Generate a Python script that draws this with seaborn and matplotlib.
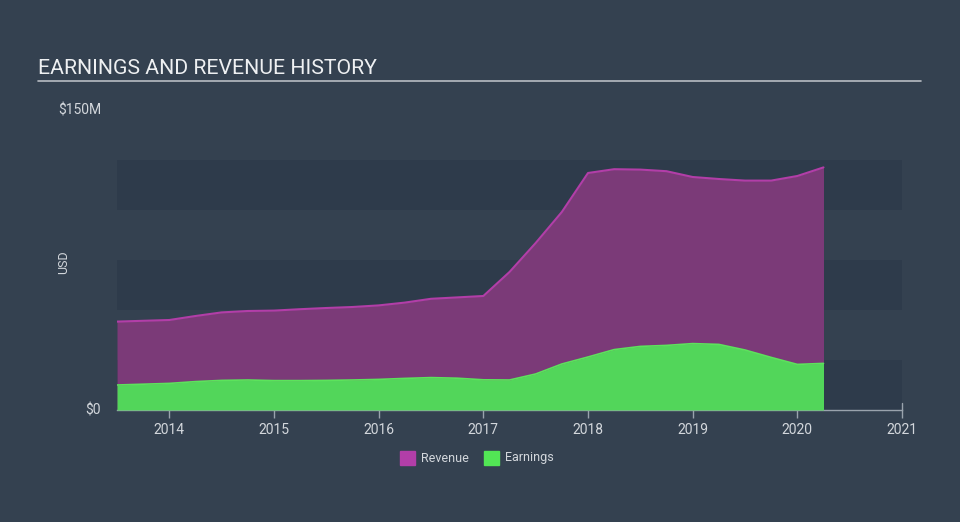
import numpy as np
import pandas as pd
import matplotlib.pyplot as plt
import seaborn as sns

# quarterly values, USD millions
dates = [2013.5, 2013.75, 2014.0, 2014.25, 2014.5, 2014.75, 2015.0, 2015.25,
         2015.5, 2015.75, 2016.0, 2016.25, 2016.5, 2016.75, 2017.0, 2017.25,
         2017.5, 2017.75, 2018.0, 2018.25, 2018.5, 2018.75, 2019.0, 2019.25,
         2019.5, 2019.75, 2020.0, 2020.25]
revenue = [44.2, 44.6, 45.0, 47.0, 48.8, 49.5, 49.7, 50.4, 51.0, 51.5, 52.3, 53.7,
           55.6, 56.3, 57.0, 69.0, 83.5, 99.0, 118.5, 120.4, 120.2, 119.4, 116.5,
           115.5, 114.7, 114.7, 117.0, 121.3]
earnings = [12.5, 12.9, 13.3, 14.2, 14.8, 15.0, 14.7, 14.7, 14.8, 15.0, 15.3, 15.8,
            16.2, 15.9, 15.1, 15.0, 18.0, 23.0, 26.5, 30.2, 31.8, 32.3, 33.2, 32.8,
            30.0, 26.3, 22.8, 23.3]
years = [2014, 2015, 2016, 2017, 2018, 2019, 2020, 2021]

df = pd.DataFrame({'date': dates, 'Revenue': revenue, 'Earnings': earnings})

bg = '#344150'
band = '#2e3b4b'
txt = '#d3d7dc'

sns.set_style('dark')
plt.rcParams['font.family'] = ['Roboto', 'DejaVu Sans']

fig = plt.figure(figsize=(9.6, 5.22), dpi=100, facecolor=bg)
ax = fig.add_axes([117/960, 1-410/522, 785/960, 300/522])
ax.set_facecolor(bg)

for lo in [0, 50, 100]:
    ax.axhspan(lo, lo + 25, color=band, zorder=0, lw=0)

ax.fill_between(df['date'], df['Revenue'], color='#7b3a78', zorder=1, lw=0)
sns.lineplot(data=df, x='date', y='Revenue', color='#b23ea8', lw=1.5, ax=ax, zorder=2)
ax.fill_between(df['date'], df['Earnings'], color='#52d65a', zorder=3, lw=0)
sns.lineplot(data=df, x='date', y='Earnings', color='#5ce35c', lw=1.2, ax=ax, zorder=4)

ax.set_xlim(2013.5, 2021.0)
ax.set_ylim(0, 150)
ax.set_xticks(years)
ax.set_xticklabels([str(y) for y in years], color=txt, fontsize=10)
ax.set_yticks([])
ax.set_xlabel('')
ax.set_ylabel('')
ax.grid(False)
for s in ['top', 'right', 'left']:
    ax.spines[s].set_visible(False)
ax.spines['bottom'].set_color('#9aa3ad')
ax.spines['bottom'].set_linewidth(1)
ax.tick_params(axis='x', length=6, color='#9aa3ad', width=1, pad=3, bottom=True)

# right end tick
ax.plot([2021, 2021], [0, 3.5], color='#9aa3ad', lw=1, clip_on=False)

fig.text(101/960, 1-110/522, '$150M', color=txt, fontsize=10, ha='right', va='center')
fig.text(101/960, 1-410/522, '$0', color=txt, fontsize=10, ha='right', va='center')
fig.text(64/960, 1-262/522, 'USD', color=txt, fontsize=9, rotation=90, ha='center', va='center')

fig.text(38/960, 1-68/522, 'EARNINGS AND REVENUE HISTORY', color='#eef0f2', fontsize=15.3,
         ha='left', va='center')
fig.add_artist(plt.Line2D([38/960, 921/960], [1-81/522, 1-81/522], color='#b7bcc3', lw=1.2))

# legend
fig.patches.append(plt.Rectangle((400/960, 1-465/522), 15/960, 14/522, color='#b23ea8',
                                 transform=fig.transFigure))
fig.text(421/960, 1-458/522, 'Revenue', color=txt, fontsize=9, ha='left', va='center')
fig.patches.append(plt.Rectangle((484/960, 1-465/522), 15/960, 14/522, color='#52e655',
                                 transform=fig.transFigure))
fig.text(505/960, 1-458/522, 'Earnings', color=txt, fontsize=9, ha='left', va='center')

fig.savefig('out.png', dpi=100, facecolor=bg)
